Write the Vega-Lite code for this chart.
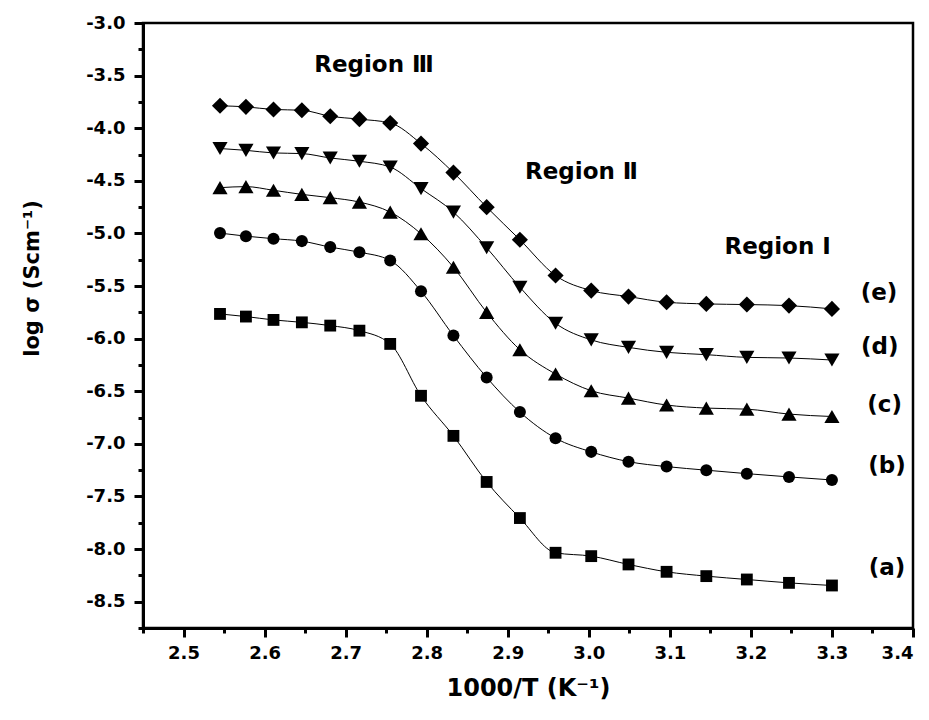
{
  "$schema": "https://vega.github.io/schema/vega-lite/v6.json",
  "width": 770,
  "height": 605,
  "autosize": {"type": "none"},
  "padding": {"left": 143, "top": 23, "right": 16, "bottom": 92},
  "background": "white",
  "config": {
    "view": {"stroke": "black", "strokeWidth": 2.5},
    "axis": {
      "grid": false,
      "domainColor": "black",
      "domainWidth": 3,
      "tickColor": "black",
      "tickWidth": 3,
      "labelColor": "black",
      "labelFont": "DejaVu Sans",
      "labelFontWeight": "bold",
      "labelFontSize": 18,
      "titleColor": "black",
      "titleFont": "DejaVu Sans",
      "titleFontWeight": "bold",
      "titleFontSize": 21
    }
  },
  "datasets": {
    "pts": [
      {"s":"a","x":2.545,"y":-5.765},{"s":"a","x":2.577,"y":-5.790},{"s":"a","x":2.611,"y":-5.822},{"s":"a","x":2.646,"y":-5.845},{"s":"a","x":2.681,"y":-5.876},{"s":"a","x":2.717,"y":-5.924},{"s":"a","x":2.755,"y":-6.050},{"s":"a","x":2.793,"y":-6.543},{"s":"a","x":2.833,"y":-6.924},{"s":"a","x":2.874,"y":-7.362},{"s":"a","x":2.915,"y":-7.705},{"s":"a","x":2.959,"y":-8.035},{"s":"a","x":3.003,"y":-8.067},{"s":"a","x":3.049,"y":-8.146},{"s":"a","x":3.096,"y":-8.216},{"s":"a","x":3.145,"y":-8.257},{"s":"a","x":3.195,"y":-8.289},{"s":"a","x":3.247,"y":-8.321},{"s":"a","x":3.300,"y":-8.346},
      {"s":"b","x":2.545,"y":-4.997},{"s":"b","x":2.577,"y":-5.026},{"s":"b","x":2.611,"y":-5.050},{"s":"b","x":2.646,"y":-5.073},{"s":"b","x":2.681,"y":-5.130},{"s":"b","x":2.717,"y":-5.178},{"s":"b","x":2.755,"y":-5.257},{"s":"b","x":2.793,"y":-5.550},{"s":"b","x":2.833,"y":-5.971},{"s":"b","x":2.874,"y":-6.369},{"s":"b","x":2.915,"y":-6.698},{"s":"b","x":2.959,"y":-6.946},{"s":"b","x":3.003,"y":-7.076},{"s":"b","x":3.049,"y":-7.169},{"s":"b","x":3.096,"y":-7.216},{"s":"b","x":3.145,"y":-7.250},{"s":"b","x":3.195,"y":-7.283},{"s":"b","x":3.247,"y":-7.314},{"s":"b","x":3.300,"y":-7.343},
      {"s":"c","x":2.545,"y":-4.565},{"s":"c","x":2.577,"y":-4.555},{"s":"c","x":2.611,"y":-4.590},{"s":"c","x":2.646,"y":-4.629},{"s":"c","x":2.681,"y":-4.660},{"s":"c","x":2.717,"y":-4.702},{"s":"c","x":2.755,"y":-4.797},{"s":"c","x":2.793,"y":-5.003},{"s":"c","x":2.833,"y":-5.321},{"s":"c","x":2.874,"y":-5.750},{"s":"c","x":2.915,"y":-6.105},{"s":"c","x":2.959,"y":-6.336},{"s":"c","x":3.003,"y":-6.495},{"s":"c","x":3.049,"y":-6.565},{"s":"c","x":3.096,"y":-6.631},{"s":"c","x":3.145,"y":-6.660},{"s":"c","x":3.195,"y":-6.670},{"s":"c","x":3.247,"y":-6.717},{"s":"c","x":3.300,"y":-6.740},
      {"s":"d","x":2.545,"y":-4.193},{"s":"d","x":2.577,"y":-4.210},{"s":"d","x":2.611,"y":-4.235},{"s":"d","x":2.646,"y":-4.241},{"s":"d","x":2.681,"y":-4.283},{"s":"d","x":2.717,"y":-4.314},{"s":"d","x":2.755,"y":-4.369},{"s":"d","x":2.793,"y":-4.574},{"s":"d","x":2.833,"y":-4.797},{"s":"d","x":2.874,"y":-5.136},{"s":"d","x":2.915,"y":-5.511},{"s":"d","x":2.959,"y":-5.854},{"s":"d","x":3.003,"y":-6.012},{"s":"d","x":3.049,"y":-6.083},{"s":"d","x":3.096,"y":-6.130},{"s":"d","x":3.145,"y":-6.152},{"s":"d","x":3.195,"y":-6.178},{"s":"d","x":3.247,"y":-6.184},{"s":"d","x":3.300,"y":-6.203},
      {"s":"e","x":2.545,"y":-3.787},{"s":"e","x":2.577,"y":-3.797},{"s":"e","x":2.611,"y":-3.822},{"s":"e","x":2.646,"y":-3.829},{"s":"e","x":2.681,"y":-3.886},{"s":"e","x":2.717,"y":-3.914},{"s":"e","x":2.755,"y":-3.950},{"s":"e","x":2.793,"y":-4.146},{"s":"e","x":2.833,"y":-4.422},{"s":"e","x":2.874,"y":-4.750},{"s":"e","x":2.915,"y":-5.060},{"s":"e","x":2.959,"y":-5.400},{"s":"e","x":3.003,"y":-5.543},{"s":"e","x":3.049,"y":-5.600},{"s":"e","x":3.096,"y":-5.654},{"s":"e","x":3.145,"y":-5.670},{"s":"e","x":3.195,"y":-5.676},{"s":"e","x":3.247,"y":-5.686},{"s":"e","x":3.300,"y":-5.717}
    ],
    "labels": [
      {"t":"Region Ⅲ","x":2.735,"y":-3.40},
      {"t":"Region Ⅱ","x":2.991,"y":-4.42},
      {"t":"Region Ⅰ","x":3.233,"y":-5.13},
      {"t":"(e)","x":3.358,"y":-5.57},
      {"t":"(d)","x":3.359,"y":-6.08},
      {"t":"(c)","x":3.365,"y":-6.63},
      {"t":"(b)","x":3.368,"y":-7.21},
      {"t":"(a)","x":3.368,"y":-8.18}
    ]
  },
  "layer": [
    {
      "data": {"name": "pts"},
      "mark": {"type": "line", "interpolate": "monotone", "color": "black", "strokeWidth": 1},
      "encoding": {
        "x": {"field": "x", "type": "quantitative", "scale": {"domain": [2.45, 3.4], "nice": false, "zero": false},
          "axis": {"orient": "bottom", "values": [2.5, 2.6, 2.7, 2.8, 2.9, 3.0, 3.1, 3.2, 3.3, 3.4], "format": ".1f", "tickSize": 9, "labelPadding": 7, "title": "1000/T (K⁻¹)", "titleFontSize": 24, "titlePadding": 14}},
        "y": {"field": "y", "type": "quantitative", "scale": {"domain": [-8.75, -3.0], "nice": false, "zero": false},
          "axis": {"orient": "left", "values": [-3.0, -3.5, -4.0, -4.5, -5.0, -5.5, -6.0, -6.5, -7.0, -7.5, -8.0, -8.5], "labelExpr": "replace(format(datum.value, '.1f'), '\u2212', '-')", "tickSize": 9, "labelPadding": 9, "title": "log σ (Scm⁻¹)", "titleX": -111, "titleY": 255, "titleAngle": -90, "titleAlign": "center", "titleBaseline": "middle"}},
        "detail": {"field": "s", "type": "nominal"}
      }
    },
    {
      "data": {"name": "pts"},
      "mark": {"type": "point", "filled": true, "color": "black", "opacity": 1, "strokeWidth": 0},
      "encoding": {
        "x": {"field": "x", "type": "quantitative",
          "axis": {"orient": "bottom", "values": [2.45, 2.55, 2.65, 2.75, 2.85, 2.95, 3.05, 3.15, 3.25, 3.35], "labels": false, "domain": false, "tickSize": 5, "title": null}},
        "y": {"field": "y", "type": "quantitative",
          "axis": {"orient": "left", "values": [-3.25, -3.75, -4.25, -4.75, -5.25, -5.75, -6.25, -6.75, -7.25, -7.75, -8.25, -8.75], "labels": false, "domain": false, "tickSize": 5, "title": null}},
        "shape": {"field": "s", "type": "nominal", "scale": {"domain": ["a", "b", "c", "d", "e"], "range": ["square", "circle", "triangle-up", "triangle-down", "diamond"]}, "legend": null},
        "size": {"field": "s", "type": "ordinal", "scale": {"type": "ordinal", "domain": ["a", "b", "c", "d", "e"], "range": [140, 145, 230, 230, 260]}, "legend": null}
      }
    },
    {
      "data": {"name": "labels"},
      "mark": {"type": "text", "font": "DejaVu Sans", "fontWeight": "bold", "fontSize": 23, "color": "black", "align": "center", "baseline": "middle"},
      "encoding": {
        "x": {"field": "x", "type": "quantitative", "axis": null},
        "y": {"field": "y", "type": "quantitative", "axis": null},
        "text": {"field": "t", "type": "nominal"}
      }
    }
  ],
  "resolve": {"axis": {"x": "independent", "y": "independent"}}
}
